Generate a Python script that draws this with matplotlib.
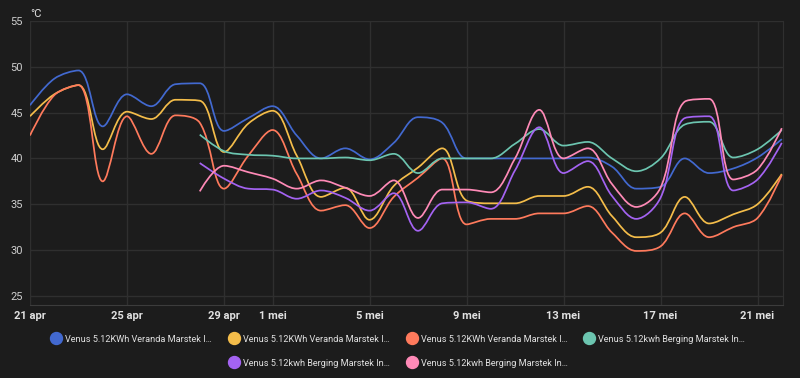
import matplotlib
matplotlib.use("Agg")
import matplotlib.pyplot as plt
import matplotlib.dates as mdates
import numpy as np
import pandas as pd
from matplotlib.path import Path
from matplotlib.patches import PathPatch
from matplotlib.lines import Line2D

plt.rcParams['font.family'] = ['Roboto', 'DejaVu Sans']

# daily values, 21 apr .. 22 mei
dates = pd.date_range('2025-04-21', '2025-05-22', freq='D')

veranda_1 = [45.8, 48.7, 49.6, 43.5, 47.0, 45.7, 48.1, 48.2, 43.0, 44.4, 45.7,
             42.5, 40.0, 41.1, 39.9, 41.7, 44.5, 43.9, 40.0, 40.0, 40.0, 40.0,
             40.0, 40.1, 39.1, 36.7, 36.9, 40.0, 38.4, 38.9, 40.1, 42.1]
veranda_2 = [44.6, 47.0, 48.0, 41.0, 45.1, 44.3, 46.4, 46.3, 40.7, 43.8, 45.2,
             40.3, 35.8, 36.8, 33.3, 37.0, 39.0, 41.1, 35.4, 35.1, 35.1, 35.9,
             35.9, 36.9, 33.7, 31.4, 31.9, 35.8, 32.9, 33.9, 35.0, 38.3]
veranda_3 = [42.5, 46.9, 48.0, 37.5, 44.6, 40.5, 44.7, 43.9, 36.7, 40.3, 43.1,
             38.3, 34.3, 34.9, 32.4, 35.8, 37.9, 40.0, 32.8, 33.4, 33.4, 34.0,
             34.0, 34.8, 31.9, 29.9, 30.4, 34.0, 31.4, 32.5, 33.5, 38.2]
# berging series start on 28 apr
berging_1 = [42.6, 40.8, 40.4, 40.3, 40.0, 40.0, 40.1, 39.8, 40.5, 38.4, 40.0,
             40.0, 40.0, 41.6, 43.2, 41.4, 41.8, 40.0, 38.6, 40.0, 43.7, 44.0,
             40.1, 41.0, 43.1]
berging_2 = [39.5, 37.8, 36.7, 36.6, 35.6, 36.5, 35.7, 34.3, 36.2, 32.1, 35.1,
             35.2, 34.5, 38.7, 43.4, 38.4, 39.7, 35.9, 33.4, 35.7, 44.4, 44.6,
             36.5, 37.7, 41.7]
berging_3 = [36.4, 39.2, 38.5, 37.8, 36.7, 37.6, 36.8, 35.9, 37.6, 33.5, 36.6,
             36.6, 36.3, 40.0, 45.3, 40.0, 41.1, 37.2, 34.7, 36.8, 46.2, 46.5,
             37.7, 38.8, 43.3]

names = ['Venus 5.12KWh Veranda Marstek I\u2026',
         'Venus 5.12KWh Veranda Marstek I\u2026',
         'Venus 5.12KWh Veranda Marstek I\u2026',
         'Venus 5.12kwh Berging Marstek In\u2026',
         'Venus 5.12kwh Berging Marstek In\u2026',
         'Venus 5.12kwh Berging Marstek In\u2026']
colors = ['#4269d0', '#f4bd4a', '#ff7a5c', '#6cc5b0', '#a463f2', '#ff8ab7']

tick_dates = ['2025-04-21', '2025-04-25', '2025-04-29', '2025-05-01', '2025-05-05',
              '2025-05-09', '2025-05-13', '2025-05-17', '2025-05-21']
tick_labels = ['21 apr', '25 apr', '29 apr', '1 mei', '5 mei', '9 mei',
               '13 mei', '17 mei', '21 mei']
y_ticks = [25, 30, 35, 40, 45, 50, 55]

bg = '#1c1c1c'
grid = '#2f2f2f'
text = '#e1e1e1'

fig = plt.figure(figsize=(8, 3.78), dpi=100, facecolor=bg)
ax = fig.add_axes([30 / 800, 1 - 305 / 378, 753 / 800, 284 / 378], facecolor=bg)

x0 = mdates.date2num(dates[0])
ax.set_xlim(x0, x0 + 31.05)
ax.set_ylim(24, 55)


def smooth_line(xs, ys, color, smooth=0.35):
    # echarts-style bezier smoothing, computed in pixel space
    pts = ax.transData.transform(np.column_stack([xs, ys]))
    n = len(pts)
    verts = [pts[0]]
    codes = [Path.MOVETO]
    cp_out = pts[0].copy()
    for i in range(1, n):
        cur = pts[i]
        if i < n - 1:
            prev, nxt = pts[i - 1], pts[i + 1]
            v = nxt - prev
            l0 = max(np.hypot(*(cur - prev)), 1e-6)
            l1 = max(np.hypot(*(nxt - cur)), 1e-6)
            r = l1 / (l0 + l1)
            nxt_out = cur + v * smooth * r
            nxt_out = np.clip(nxt_out, np.minimum(cur, nxt), np.maximum(cur, nxt))
            vv = nxt_out - cur
            cp_in = cur - vv * l0 / l1
            cp_in = np.clip(cp_in, np.minimum(prev, cur), np.maximum(prev, cur))
            vv = cur - cp_in
            nxt_out = cur + vv * l1 / l0
        else:
            cp_in = cur
            nxt_out = cur
        verts += [cp_out, cp_in, cur]
        codes += [Path.CURVE4] * 3
        cp_out = nxt_out
    data_verts = ax.transData.inverted().transform(np.array(verts))
    ax.add_patch(PathPatch(Path(data_verts, codes), fill=False, edgecolor=color,
                           lw=1.25, transform=ax.transData, zorder=3))


xs_all = mdates.date2num(dates)
series = [veranda_1, veranda_2, veranda_3, berging_1, berging_2, berging_3]
for vals, c in zip(series, colors):
    xs = xs_all[len(xs_all) - len(vals):]
    smooth_line(xs, vals, c)

ax.set_yticks(y_ticks)
ax.set_yticklabels([str(t) for t in y_ticks])
ax.set_xticks([mdates.date2num(pd.Timestamp(d)) for d in tick_dates])
ax.set_xticklabels(tick_labels, fontweight='bold')
ax.tick_params(axis='y', length=0, pad=5, labelsize=8, labelcolor='#cfcfcf')
ax.tick_params(axis='x', length=0, pad=4, labelsize=8, labelcolor=text)
ax.grid(True, color=grid, lw=1)
for s in ['top', 'left']:
    ax.spines[s].set_visible(False)
ax.spines['bottom'].set_color('#3c3c3c')
ax.spines['right'].set_color(grid)

fig.text(30 / 800, 1 - 14 / 378, '°C', color=text, fontsize=8, va='center', ha='left')

handles = [Line2D([], [], ls='none', marker='o', markersize=8.6, color=c) for c in colors]
common = dict(frameon=False, fontsize=6.6, labelcolor=text, handlelength=1.0,
              handletextpad=0.48, columnspacing=1.9, borderpad=0, borderaxespad=0)
fig.legend(handles[:4], names[:4], loc='center', ncol=4,
           bbox_to_anchor=(0.498, 1 - 339 / 378), **common)
fig.legend(handles[4:], names[4:], loc='center', ncol=2,
           bbox_to_anchor=(0.498, 1 - 363 / 378), **common)

fig.savefig('out.png', dpi=100, facecolor=bg)
